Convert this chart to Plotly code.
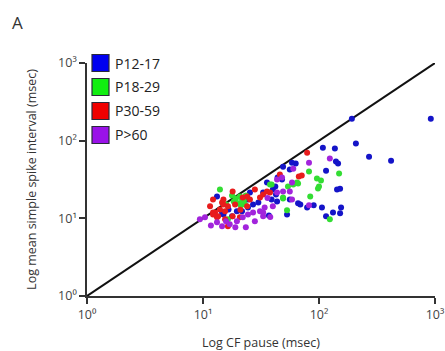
import plotly.graph_objects as go

# ---- data ----
groups = ["P12-17", "P18-29", "P30-59", "P>60"]
colors = ["#1414c8", "#33dd33", "#e81c1c", "#a224dc"]
legend_fill = ["#0000f0", "#11ee11", "#f00000", "#9a12e8"]

blue_x = [192, 920, 208, 270, 418, 108, 137, 140, 146, 115, 63, 58.5, 56, 49, 143, 152, 155, 132, 152, 115,
          106, 90, 79, 66, 69, 53, 43.5, 42.6, 13.2, 44, 48, 40, 25.4, 24.4, 27, 30, 39, 37, 56, 35.6,
          33, 42, 14.6, 17.8, 21.7, 19.6, 24.4, 15, 16.6]
blue_y = [191, 191, 92, 62, 55, 81, 79, 54, 51, 41, 51, 52, 42.5, 46, 23.5, 24, 13.8, 11.9, 11.6, 10.6,
          13.8, 14.7, 13.8, 15.6, 15.1, 11.2, 16.5, 20.3, 19.1, 33.5, 31.6, 23.5, 21.5, 17.5, 15.1, 16, 17.5, 10.9, 17.5, 29,
          21.5, 25.7, 11.9, 10.6, 12.3, 12.3, 13.8, 11.2, 13.0]

green_x = [82, 149, 96, 104, 100, 98, 84, 53, 124, 64.6, 60, 54, 14, 49, 39, 22, 21.7,
           17.8, 19.2, 20.8, 22.5, 20, 18.4, 21.2, 23.4, 23, 16.4, 15.8, 49, 66, 37.8]
green_y = [40, 37.8, 32.6, 30.7, 25.7, 24.2, 19.1, 12.7, 9.7, 29, 27.3, 25.7, 23.5, 18, 27.3, 16, 17.5,
           19.7, 18, 19.1, 17, 15.6, 16.5, 14.7, 19.7, 15.1, 9.7, 15.1, 18.6, 28.1, 27.3]

red_x = [79, 71, 67, 46, 35.6, 33, 31, 28, 24, 22, 12.2, 13.2, 15.5, 16.4, 14.6, 18.9, 12.7, 13.5, 15,
         20.8, 16.4, 12.2, 15, 18, 37.8, 15.5, 25.4, 12.2, 14, 11.5, 18, 24, 21]
red_y = [70, 35.6, 34.5, 36.6, 22.2, 20.3, 18.6, 23.5, 19.1, 18.6, 11.9, 10.3, 12.3, 14.3, 16, 15.1, 11.9, 10.6, 15.1,
         10.3, 7.9, 11.2, 17.5, 22.2, 21.5, 9.7, 17.5, 17.5, 13, 14.3, 10.6, 14.3, 12.9]

purple_x = [82, 124, 60, 58.5, 82, 58.5, 56, 43.5, 49, 40, 34, 31, 27, 24.4, 22, 33, 10.4, 13.2, 14.6, 19.6,
            11.7, 23.4, 38, 33, 48, 43.5, 9.4, 15.8, 17, 28, 19, 36]
purple_y = [52, 59, 43.5, 17.5, 14.7, 29, 22.2, 21.5, 22.2, 14.3, 13.8, 12.3, 11.9, 11.2, 10.3, 10.6, 10.3, 8.9, 7.9, 9.2,
            8.1, 7.7, 10.4, 11.9, 33.5, 31.6, 9.7, 9.2, 8.4, 9.2, 7.7, 18.3]

series = [(blue_x, blue_y), (green_x, green_y), (red_x, red_y), (purple_x, purple_y)]

identity = [1, 1000]
tick_vals = [1, 10, 100, 1000]
tick_text = ["10⁰", "10¹", "10²", "10³"]

FONT = "Open Sans"

fig = go.Figure()

fig.add_trace(go.Scatter(x=identity, y=identity, mode="lines",
                         line=dict(color="#111111", width=2), showlegend=False, hoverinfo="skip"))

for name, col, (xs, ys) in zip(groups, colors, series):
    fig.add_trace(go.Scatter(x=xs, y=ys, mode="markers", name=name, showlegend=False,
                             marker=dict(color=col, size=6, line=dict(width=0))))

# manual legend (squares + labels), positioned in paper coords
centers = [1.0, 0.897, 0.794, 0.691]
for name, fillc, cy in zip(groups, legend_fill, centers):
    fig.add_shape(type="rect", xref="paper", yref="paper",
                  x0=0.0144, x1=0.0632, y0=cy - 0.0365, y1=cy + 0.0365,
                  fillcolor=fillc, line=dict(color="#2a2a3a", width=1.2))
    fig.add_annotation(text=name, xref="paper", yref="paper", x=0.0747, y=cy,
                       xanchor="left", yanchor="middle", showarrow=False,
                       font=dict(family=FONT, size=14, color="#222222"))

fig.add_annotation(text="A", xref="paper", yref="paper", x=-0.222, y=1.175,
                   xanchor="left", yanchor="middle", showarrow=False,
                   font=dict(family=FONT, size=17, color="#333333"))

axis_common = dict(type="log", range=[0, 3], showgrid=False, zeroline=False,
                   showline=True, linecolor="#333333", linewidth=1.5,
                   ticks="outside", ticklen=6, tickwidth=1.5, tickcolor="#333333",
                   tickvals=tick_vals, ticktext=tick_text, automargin=False,
                   tickfont=dict(family=FONT, size=12.5, color="#444444"))

fig.update_layout(
    width=445, height=351,
    margin=dict(l=87, r=10, t=63, b=55),
    paper_bgcolor="white", plot_bgcolor="white",
    xaxis=dict(**axis_common,
               title=dict(text="Log CF pause (msec)", standoff=18,
                          font=dict(family=FONT, size=12.5, color="#333333"))),
    yaxis=dict(**axis_common,
               title=dict(text="Log mean simple spike interval (msec)", standoff=19,
                          font=dict(family=FONT, size=12.5, color="#333333"))),
)

fig.write_html("out.html", config={"displayModeBar": False},
               post_script="document.body.style.margin='0';")
